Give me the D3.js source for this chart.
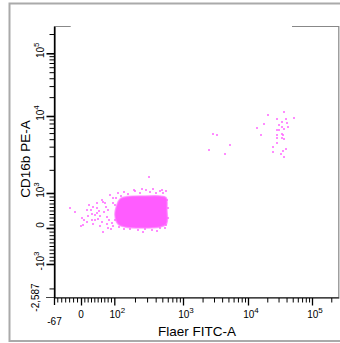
<!DOCTYPE html>
<html><head><meta charset="utf-8">
<script src="https://cdn.jsdelivr.net/npm/d3@7"></script>
<style>body{margin:0;background:#fff}svg{display:block}text{font-family:"Liberation Sans",Arial,sans-serif;fill:#000}</style>
</head><body><svg id="c" width="340" height="343"></svg>
<script>
// ---------- data ----------
const xDomain = [-67, 262144];
const yDomain = [-2587, 262144];
const xMajorTicks = [0, 100, 1000, 10000, 100000];
const xMinorTicks = [-60,-50,-40,-30,-20,-10,10,20,30,40,50,60,70,80,90,
  200,300,400,500,600,700,800,900,2000,3000,4000,5000,6000,7000,8000,9000,
  20000,30000,40000,50000,60000,70000,80000,90000,200000];
const yMajorTicks = [-1000, 0, 1000, 10000, 100000];
const yMinorTicks = [-2000,-900,-800,-700,-600,-500,-400,-300,-200,-100,
  100,200,300,400,500,600,700,800,900,2000,3000,4000,5000,6000,7000,8000,9000,
  20000,30000,40000,50000,60000,70000,80000,90000,200000];
const xTickLabels = [["-67","",-67],["0","",0],["10","2",100],["10","3",1000],["10","4",10000],["10","5",100000]];
const yTickLabels = [["-2,587","",-2587],["-10","3",-1000],["0","",0],["10","3",1000],["10","4",10000],["10","5",100000]];
const xTitle = "Flaer FITC-A";
const yTitle = "CD16b PE-A";
// dense core of the main population (outline, FITC / PE values)
const coreFitc = [109,121,158,280,462,566,585,575,462,237,143,113,102];
const corePe   = [657,829,900,914,914,871,514,114,29,0,29,114,371];
// individual events
const eventFitc = [-28,-1,10,17,29,37,47,62,67,87,75,42,32,7,67,52,77,85,92,97,82,55,25,47,95,21,36,57,69,78,90,96,
  113,138,158,200,237,289,331,366,405,462,512,566,316,585,605,595,575,462,354,280,221,169,138,117,102,102,106,125,262,419,194,253,494,547,
  -15,3,18,33,48,57,72,63,42,81,
  20300,36500,52800,38800,33600,41100,28000,17800,13700,30500,34300,42700,36500,28700,30800,16100,28700,33600,35600,28000,33600,36500,28000,24300,38800,35600,24300,33100,36500,
  2920,3300,5280,2540,4430];
const eventPe = [563,66,229,514,514,609,420,800,751,943,609,371,229,86,-119,249,323,229,134,706,514,494,657,706,849,343,114,57,457,114,-28,57,
  986,1030,971,1062,1000,1094,1045,1127,1015,1062,986,1070,1630,800,571,286,86,0,-42,-28,-69,-28,-14,29,229,657,857,914,-111,-83,1094,1144,1110,14,
  457,286,171,400,571,343,714,171,229,0,
  10370,11700,9330,9140,8430,8030,9140,7870,7050,7640,7260,7130,6720,6640,6640,5660,5660,5840,5660,5130,5130,5020,4420,3990,3690,3540,3440,3210,2960,
  5840,5660,4200,3610,3210];

// ---------- scales (biexponential-like: linear near zero, log above) ----------
function bi(v, L) { const a = Math.abs(v); return a <= L ? v / L : Math.sign(v) * (1 + Math.log10(a / L)); }
function makeScale(inner, L) {
  const s = v => inner(bi(v, L));
  s.copy = () => makeScale(inner.copy(), L);
  s.range = () => [inner.range()[0], inner.range()[inner.range().length - 1]];
  s.domain = () => inner.domain();
  return s;
}
const xInner = d3.scaleLinear()
  .domain([bi(xDomain[0],100), 0, 1, 2, 3, 4, bi(xDomain[1],100)])
  .range([54.5, 81, 114.3, 183, 248, 312, 338.8]);
const yInner = d3.scaleLinear()
  .domain([bi(yDomain[0],1000), -1, 0, 1, 2, 3, bi(yDomain[1],1000)])
  .range([297.5, 264, 228, 193, 116, 53.3, 26.5]);
const x = makeScale(xInner, 100);
const y = makeScale(yInner, 1000);

const svg = d3.select("#c");
// outer border
svg.append("path").attr("d","M340,3.5H9.5V341H340").attr("fill","none").attr("stroke","#aaa").attr("stroke-width",2);

// frame (top segments + right)
const x0 = x(xDomain[0]), x1 = x(xDomain[1]), yT = y(yDomain[1]), yB = y(yDomain[0]);
svg.append("path").attr("d",`M${x0},${yT}H70.7M292,${yT}H${x1}V${yB}`)
  .attr("fill","none").attr("stroke","#888").attr("stroke-width",1.2);

// ---------- events ----------
const core = coreFitc.map((f,i)=>[x(f), y(corePe[i])]);
svg.append("path").attr("d", d3.line().curve(d3.curveCatmullRomClosed)(core))
  .attr("fill","#ff5cff").attr("stroke","#ff80ff").attr("stroke-width",1.5).attr("stroke-opacity",0.7);
svg.append("g").selectAll("rect").data(eventFitc.map((f,i)=>[f,eventPe[i]])).join("rect")
  .attr("x", d=>Math.round(x(d[0]))-1).attr("y", d=>Math.round(y(d[1]))-1)
  .attr("width",2).attr("height",2).attr("fill","#ff66ff").attr("opacity",0.75);

// ---------- axes ----------
const gx = svg.append("g").attr("transform",`translate(0,${yB})`);
gx.call(d3.axisBottom(x).tickValues(xMajorTicks).tickSize(8).tickSizeOuter(0).tickFormat(""));
gx.call(g=>g.selectAll(".tick line").attr("stroke","#000").attr("stroke-width",1.3));
const gxm = svg.append("g").attr("transform",`translate(0,${yB})`);
gxm.call(d3.axisBottom(x).tickValues(xMinorTicks).tickSize(5).tickSizeOuter(0).tickFormat(""));
gxm.select(".domain").remove();
svg.append("line").attr("x1",46).attr("x2",x1).attr("y1",yB).attr("y2",yB).attr("stroke","#444").attr("stroke-width",1.2);

const gy = svg.append("g").attr("transform",`translate(${x0},0)`);
gy.call(d3.axisLeft(y).tickValues(yMajorTicks).tickSize(8).tickSizeOuter(0).tickFormat(""));
gy.call(g=>g.selectAll(".tick line").attr("stroke","#000").attr("stroke-width",1.6));
const gym = svg.append("g").attr("transform",`translate(${x0},0)`);
gym.call(d3.axisLeft(y).tickValues(yMinorTicks).tickSize(5).tickSizeOuter(0).tickFormat(""));
gym.select(".domain").remove();
svg.append("line").attr("x1",x0).attr("x2",x0).attr("y1",yT).attr("y2",305).attr("stroke","#000").attr("stroke-width",1.3);
svg.selectAll(".domain").attr("stroke","#000");

// tick labels
function label(g, base, sup) {
  const t = g.append("text").attr("text-anchor","middle").attr("font-size",10);
  t.append("tspan").text(base);
  if (sup) t.append("tspan").attr("font-size",8).attr("dy",-5).text(sup);
  return t;
}
xTickLabels.forEach(([b,s,v])=>{
  const g = svg.append("g").attr("transform",`translate(${x(v)+(s?3:0)},${v===-67?325:318})`);
  label(g,b,s);
});
yTickLabels.forEach(([b,s,v])=>{
  const g = svg.append("g").attr("transform",`translate(${v===-2587?39:44},${v===-2587?y(v):y(v)-3}) rotate(-90)`);
  label(g,b,s);
});

// axis titles
svg.append("text").attr("x",197).attr("y",336).attr("text-anchor","middle").attr("font-size",13.5).text(xTitle);
svg.append("text").attr("transform","translate(30,159) rotate(-90)").attr("text-anchor","middle").attr("font-size",13.5).text(yTitle);
</script></body></html>
